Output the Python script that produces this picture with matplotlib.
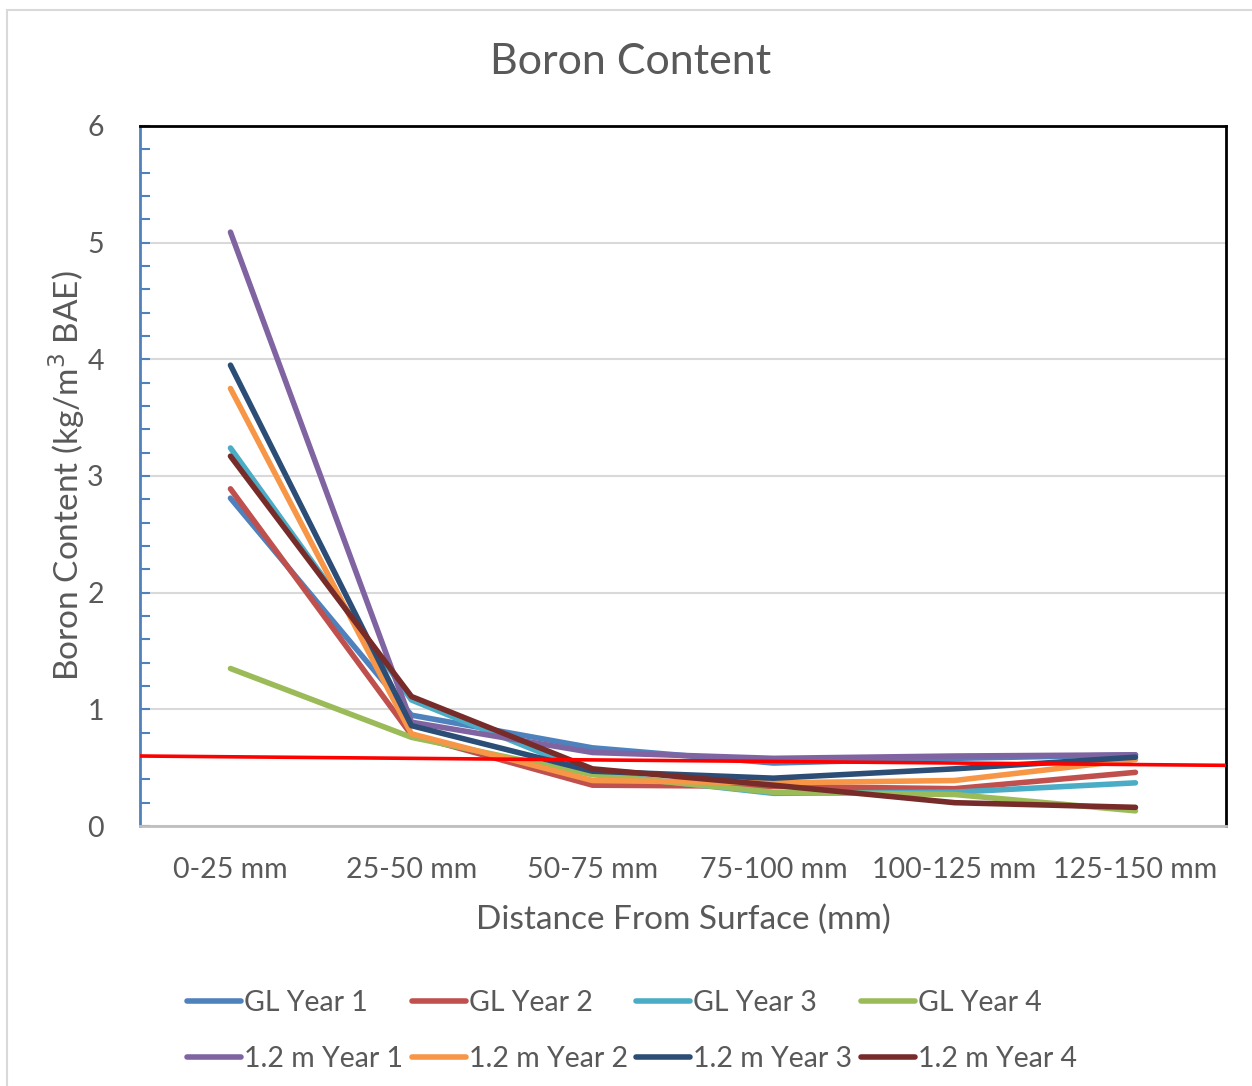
import matplotlib.pyplot as plt
from matplotlib.patches import Rectangle
from matplotlib.ticker import MultipleLocator

plt.rcParams['font.family'] = ['Lato', 'DejaVu Sans']

depths = ['0-25 mm', '25-50 mm', '50-75 mm', '75-100 mm', '100-125 mm', '125-150 mm']

gl_year1 = [2.81, 0.95, 0.67, 0.54, 0.58, 0.61]
gl_year2 = [2.89, 0.78, 0.35, 0.34, 0.32, 0.46]
gl_year3 = [3.24, 1.08, 0.45, 0.28, 0.29, 0.37]
gl_year4 = [1.35, 0.76, 0.44, 0.29, 0.27, 0.13]
m12_year1 = [5.09, 0.89, 0.63, 0.58, 0.60, 0.61]
m12_year2 = [3.75, 0.79, 0.39, 0.37, 0.39, 0.57]
m12_year3 = [3.95, 0.86, 0.47, 0.41, 0.49, 0.59]
m12_year4 = [3.17, 1.11, 0.49, 0.35, 0.20, 0.16]

limit_line = [0.60, 0.52]

series = [
    ('GL Year 1', gl_year1, '#4F81BD'),
    ('GL Year 2', gl_year2, '#C0504D'),
    ('GL Year 3', gl_year3, '#4BACC6'),
    ('GL Year 4', gl_year4, '#9BBB59'),
    ('1.2 m Year 1', m12_year1, '#8064A2'),
    ('1.2 m Year 2', m12_year2, '#F79646'),
    ('1.2 m Year 3', m12_year3, '#2C4D75'),
    ('1.2 m Year 4', m12_year4, '#772C2A'),
]

txt = '#595959'

fig = plt.figure(figsize=(12.52, 10.86), dpi=100)
ax = fig.add_axes([0.1118, 0.2394, 0.8674, 0.6446])

x = list(range(len(depths)))
handles = []
for name, vals, col in series:
    h, = ax.plot(x, vals, color=col, lw=4.0, solid_capstyle='round',
                 solid_joinstyle='round', label=name, zorder=3)
    handles.append(h)

# threshold line across the whole plot
ax.plot([-0.5, len(depths) - 0.5], limit_line, color='#FF0000', lw=2.6, zorder=4)

ax.set_xlim(-0.5, len(depths) - 0.5)
ax.set_ylim(0, 6)
ax.set_xticks(x)
ax.set_xticklabels(depths)
ax.yaxis.set_major_locator(MultipleLocator(1))
ax.yaxis.set_minor_locator(MultipleLocator(0.2))
ax.grid(axis='y', color='#D9D9D9', lw=1.5, zorder=0)

ax.tick_params(axis='x', length=0, labelsize=20.5, labelcolor=txt, pad=22)
ax.tick_params(axis='y', which='both', direction='in', color='#4F81BD',
               width=1.5, labelsize=20.5, labelcolor=txt, pad=26)
ax.tick_params(axis='y', which='major', length=7)
ax.tick_params(axis='y', which='minor', length=7)

ax.spines['left'].set_color('#4F81BD')
ax.spines['left'].set_linewidth(2)
ax.spines['bottom'].set_color('#BFBFBF')
ax.spines['bottom'].set_linewidth(2)
ax.spines['top'].set_color('black')
ax.spines['top'].set_linewidth(2)
ax.spines['right'].set_color('black')
ax.spines['right'].set_linewidth(2)

fig.text(0.504, 1 - 62 / 1086, 'Boron Content', fontsize=31, color=txt,
         ha='center', va='center')
ax.set_xlabel('Distance From Surface (mm)', fontsize=24, color=txt, labelpad=16)
ax.set_ylabel('Boron Content (kg/m$^3$ BAE)', fontsize=24, color=txt, labelpad=0)

order = [0, 4, 1, 5, 2, 6, 3, 7]
fig.legend([handles[i] for i in order], [series[i][0] for i in order],
           loc='lower left', bbox_to_anchor=(0.129, -0.011), ncol=4, frameon=False,
           fontsize=20.5, labelcolor=txt, handlelength=1.9, handletextpad=0.1,
           columnspacing=0.3, labelspacing=1.05)

fig.patches.append(Rectangle((7 / 1252, -0.05), 1.1, 1 - 10 / 1086 + 0.05,
                             transform=fig.transFigure, fill=False,
                             edgecolor='#D9D9D9', lw=1.5))

fig.savefig('out.png', dpi=100)
